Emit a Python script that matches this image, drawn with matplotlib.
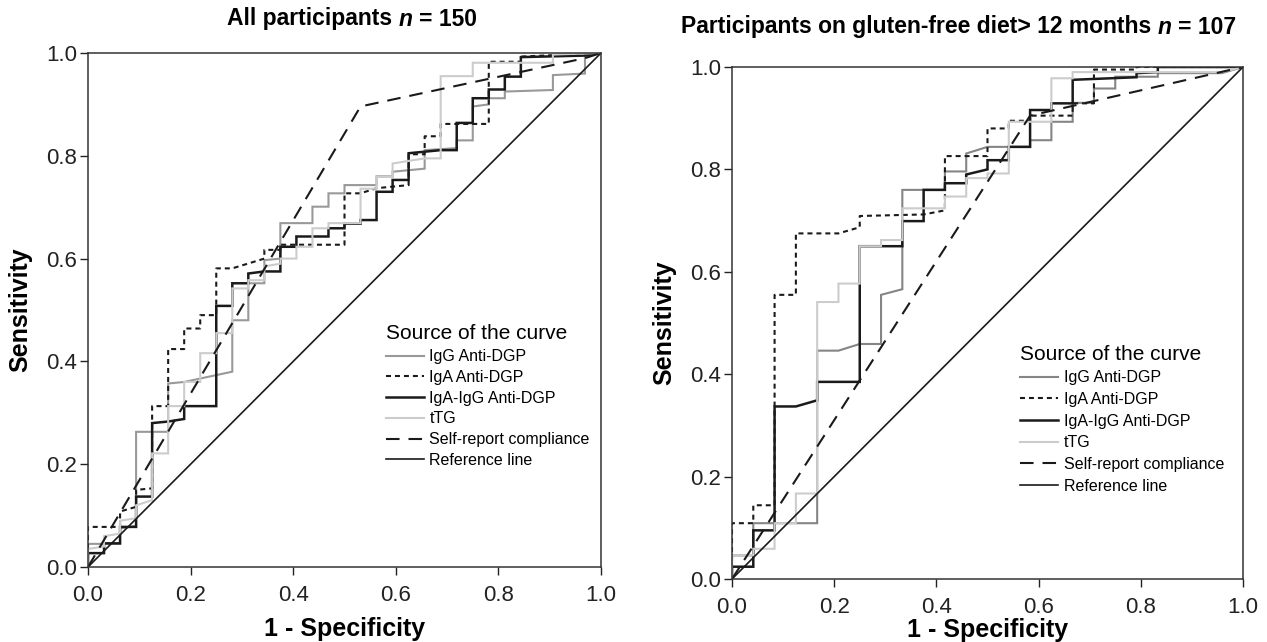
import numpy as np
import matplotlib.pyplot as plt

plt.rcParams['font.family'] = ['Liberation Sans', 'DejaVu Sans']

# ---- data ----------------------------------------------------------------
# x is given as number of false-positive steps (1 - specificity = k / n_neg)
left_n_neg = 32
right_n_neg = 24

left_igg = [(0, 0), (0, 0.045), (2, 0.045), (2, 0.075), (3, 0.08), (3, 0.263), (5, 0.263),
            (5, 0.357), (6, 0.36), (9, 0.38), (9, 0.48), (10, 0.48), (10, 0.552), (11, 0.552),
            (11, 0.597), (12, 0.6), (12, 0.669), (14, 0.669), (14, 0.701), (15, 0.701),
            (15, 0.727), (16, 0.727), (16, 0.743), (18, 0.743), (18, 0.76), (19, 0.76),
            (19, 0.769), (21, 0.775), (21, 0.811), (23, 0.815), (23, 0.83), (24, 0.83),
            (24, 0.896), (25, 0.9), (25, 0.912), (26, 0.912), (26, 0.925), (29, 0.928),
            (29, 0.957), (31, 0.96), (31, 0.993), (32, 1.0)]
left_iga = [(0, 0), (0, 0.078), (2, 0.078), (2, 0.108), (3, 0.117), (3, 0.15), (4, 0.153),
            (4, 0.313), (5, 0.313), (5, 0.424), (6, 0.424), (6, 0.464), (7, 0.464), (7, 0.49),
            (8, 0.49), (8, 0.581), (9, 0.581), (11, 0.6), (11, 0.617), (12, 0.617), (12, 0.627),
            (16, 0.627), (16, 0.727), (17, 0.727), (18, 0.737), (20, 0.743), (20, 0.803),
            (21, 0.803), (21, 0.838), (22, 0.838), (22, 0.862), (25, 0.862), (25, 0.983),
            (27, 0.983), (27, 0.993), (32, 1.0)]
left_combo = [(0, 0), (0, 0.027), (1, 0.027), (1, 0.046), (2, 0.046), (2, 0.078), (3, 0.078),
              (3, 0.137), (4, 0.137), (4, 0.28), (5, 0.283), (6, 0.288), (6, 0.313), (8, 0.313),
              (8, 0.508), (9, 0.508), (9, 0.552), (10, 0.552), (10, 0.571), (11, 0.575),
              (12, 0.575), (12, 0.623), (13, 0.623), (13, 0.643), (15, 0.643), (15, 0.659),
              (16, 0.659), (16, 0.668), (17, 0.668), (17, 0.675), (18, 0.675), (18, 0.73),
              (19, 0.73), (19, 0.753), (20, 0.753), (20, 0.805), (22, 0.811), (23, 0.811),
              (23, 0.864), (24, 0.864), (24, 0.912), (25, 0.912), (25, 0.929), (26, 0.929),
              (26, 0.954), (27, 0.954), (27, 0.992), (31, 0.995), (32, 1.0)]
left_ttg = [(0, 0), (0, 0.035), (1, 0.04), (1, 0.06), (2, 0.065), (2, 0.09), (3, 0.095),
            (3, 0.12), (4, 0.13), (4, 0.221), (5, 0.221), (5, 0.313), (6, 0.313), (6, 0.36),
            (7, 0.36), (7, 0.416), (8, 0.416), (8, 0.455), (9, 0.455), (9, 0.542), (10, 0.542),
            (10, 0.558), (11, 0.558), (11, 0.585), (12, 0.59), (12, 0.6), (13, 0.6), (13, 0.623),
            (14, 0.623), (14, 0.659), (15, 0.659), (15, 0.669), (17, 0.669), (17, 0.736),
            (18, 0.736), (18, 0.759), (19, 0.759), (19, 0.785), (21, 0.795), (22, 0.795),
            (22, 0.955), (24, 0.955), (24, 0.981), (29, 0.981), (29, 0.997), (32, 1.0)]
left_self = [(0, 0), (17, 0.896), (31, 0.99), (32, 1.0)]

right_igg = [(0, 0), (0, 0.046), (1, 0.046), (1, 0.109), (4, 0.109), (4, 0.446), (5, 0.446),
             (6, 0.459), (7, 0.459), (7, 0.555), (8, 0.566), (8, 0.76), (10, 0.76), (10, 0.796),
             (11, 0.796), (11, 0.831), (12, 0.844), (14, 0.844), (14, 0.857), (15, 0.857),
             (15, 0.893), (16, 0.893), (16, 0.93), (17, 0.93), (17, 0.958), (18, 0.958),
             (18, 0.981), (20, 0.981), (20, 0.988), (23, 0.988), (24, 1.0)]
right_iga = [(0, 0), (0, 0.109), (1, 0.109), (1, 0.144), (2, 0.144), (2, 0.555), (3, 0.555),
             (3, 0.675), (5, 0.675), (6, 0.687), (6, 0.709), (9, 0.712), (10, 0.72), (10, 0.826),
             (12, 0.826), (12, 0.88), (13, 0.88), (13, 0.895), (14, 0.895), (14, 0.905),
             (16, 0.905), (16, 0.929), (17, 0.929), (17, 0.995), (19, 0.995), (19, 1.0), (24, 1.0)]
right_combo = [(0, 0), (0, 0.024), (1, 0.024), (1, 0.095), (2, 0.095), (2, 0.337), (3, 0.337),
               (4, 0.349), (4, 0.385), (6, 0.385), (6, 0.65), (8, 0.65), (8, 0.699), (9, 0.699),
               (9, 0.76), (10, 0.76), (10, 0.773), (11, 0.773), (11, 0.79), (12, 0.8), (12, 0.818),
               (13, 0.818), (13, 0.844), (14, 0.844), (14, 0.916), (15, 0.916), (15, 0.929),
               (16, 0.929), (16, 0.975), (19, 0.98), (19, 0.988), (20, 0.99), (20, 1.0), (24, 1.0)]
right_ttg = [(0, 0), (0, 0.046), (1, 0.046), (1, 0.059), (2, 0.059), (2, 0.109), (3, 0.109),
             (3, 0.167), (4, 0.167), (4, 0.541), (5, 0.541), (5, 0.577), (6, 0.577), (6, 0.65),
             (7, 0.65), (7, 0.662), (8, 0.662), (8, 0.724), (10, 0.724), (10, 0.747), (11, 0.747),
             (11, 0.783), (12, 0.783), (12, 0.792), (13, 0.792), (13, 0.893), (15, 0.893),
             (15, 0.978), (16, 0.978), (16, 0.99), (23, 0.99), (24, 1.0)]
right_self = [(0, 0), (14, 0.905), (24, 1.0)]

labels = ['IgG Anti-DGP', 'IgA Anti-DGP', 'IgA-IgG Anti-DGP', 'tTG',
          'Self-report compliance', 'Reference line']
ticks = [0.0, 0.2, 0.4, 0.6, 0.8, 1.0]

# ---- styles ---------------------------------------------------------------
styles = [
    dict(color='#999999', lw=1.5, ls='-'),
    dict(color='#1a1a1a', lw=1.5, ls=(0, (2.4, 1.9))),
    dict(color='#1a1a1a', lw=1.8, ls='-'),
    dict(color='#cccccc', lw=1.5, ls='-'),
    dict(color='#1a1a1a', lw=1.5, ls=(0, (6.5, 4.3))),
    dict(color='#1a1a1a', lw=1.2, ls='-'),
]


def draw_panel(ax, n_neg, curves, gray, anchor, xpad, lspace):
    handles = []
    for i, pts in enumerate(curves):
        pts = np.array(pts, dtype=float)
        st = dict(styles[i])
        if i == 0:
            st['color'] = gray
        h, = ax.plot(pts[:, 0] / n_neg, pts[:, 1], color=st['color'],
                     lw=st['lw'], ls=st['ls'], solid_joinstyle='miter')
        handles.append(h)
    h, = ax.plot([0, 1], [0, 1], color=styles[5]['color'], lw=styles[5]['lw'],
                 ls=styles[5]['ls'])
    handles.append(h)

    ax.set_xlim(0, 1)
    ax.set_ylim(0, 1)
    ax.set_xticks(ticks)
    ax.set_yticks(ticks)
    ax.set_xticklabels(['%.1f' % t for t in ticks])
    ax.set_yticklabels(['%.1f' % t for t in ticks])
    ax.tick_params(direction='out', length=6, width=1.0, labelsize=16, colors='#222222')
    ax.tick_params(axis='x', pad=7)
    ax.tick_params(axis='y', pad=2)
    for sp in ax.spines.values():
        sp.set_linewidth(1.1)
        sp.set_color('#333333')
    ax.set_xlabel('1 - Specificity', fontsize=18, fontweight='bold', labelpad=xpad)
    ax.set_ylabel('Sensitivity', fontsize=18, fontweight='bold', labelpad=10)

    ax.legend(handles, labels, title='Source of the curve', title_fontsize=15,
              fontsize=11.5, frameon=False, loc='upper left', bbox_to_anchor=anchor,
              handlelength=2.4, handletextpad=0.35, labelspacing=lspace,
              borderpad=0, borderaxespad=0, alignment='left')


def mixed_title(fig, xc, yc, parts, size):
    renderer = fig.canvas.get_renderer()
    gap = 0.278 * size * fig.dpi / 72
    texts = []
    for s, style in parts:
        t = fig.text(0, yc, s, fontsize=size, fontweight='bold', style=style,
                     va='center', ha='left')
        texts.append(t)
    widths = [t.get_window_extent(renderer).width for t in texts]
    total = sum(widths) + gap * (len(texts) - 1)
    start = xc * fig.bbox.width - total / 2
    for t, w in zip(texts, widths):
        t.set_x(start / fig.bbox.width)
        start += w + gap


fig = plt.figure(figsize=(12.67, 6.42), dpi=100)
axL = fig.add_axes([88 / 1267, 75 / 642, 513 / 1267, 514 / 642])
axR = fig.add_axes([732 / 1267, 63 / 642, 511 / 1267, 512 / 642])

draw_panel(axL, left_n_neg, [left_igg, left_iga, left_combo, left_ttg, left_self],
           '#999999', (0.58, 0.472), 8, 0.36)
draw_panel(axR, right_n_neg, [right_igg, right_iga, right_combo, right_ttg, right_self],
           '#858585', (0.563, 0.458), 0, 0.42)

mixed_title(fig, 352 / 1267, 1 - 19 / 642,
            [('All participants', 'normal'), ('n', 'italic'), ('= 150', 'normal')], 16.5)
mixed_title(fig, 959 / 1267, 1 - 27 / 642,
            [('Participants on gluten-free diet> 12 months', 'normal'), ('n', 'italic'),
             ('= 107', 'normal')], 16.5)

fig.savefig('out.png', dpi=100)
